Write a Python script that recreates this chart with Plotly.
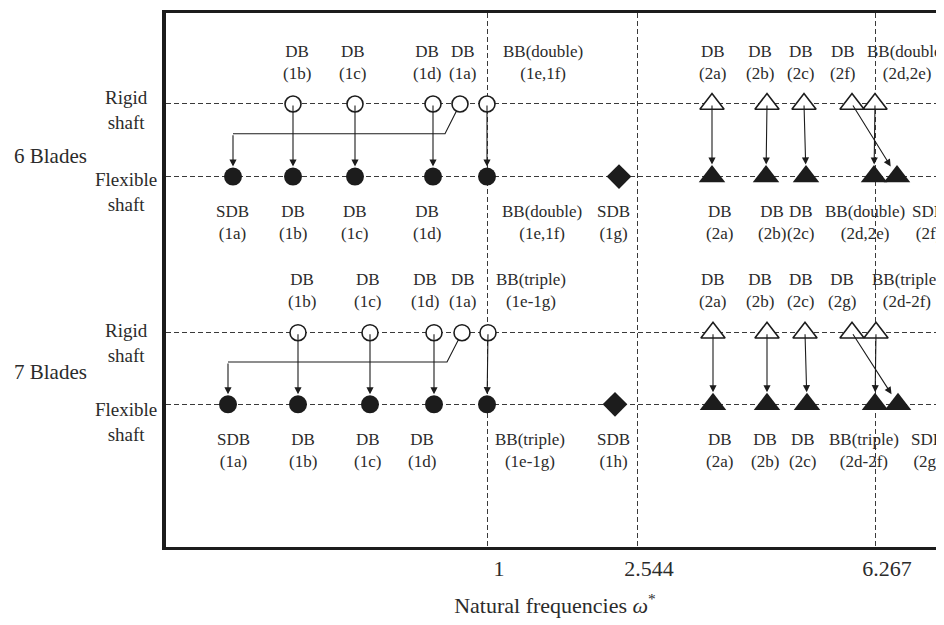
import plotly.graph_objects as go

FONT = "Liberation Serif, Times New Roman, serif"
INK = "#1c1c1c"
TXT = "#2b2b2b"

# ---- schematic frequency axis (positions along the line, unitless) ----
divider_pos = [321, 471, 709]
divider_labels = ["1", "2.544", "6.267"]

# ---- rows ----
level_pos = [95, 168, 325, 397]          # 6-rigid, 6-flex, 7-rigid, 7-flex
level_names = ["Rigid<br>shaft", "Flexible<br>shaft", "Rigid<br>shaft", "Flexible<br>shaft"]
group_names = ["6 Blades", "7 Blades"]

# ---- 6 blades: modes (rigid position -> flexible position) ----
b6_modes = ["1a", "1b", "1c", "1d", "1e,1f", "2a", "2b", "2c", "2d,2e", "2f"]
b6_family = [1, 1, 1, 1, 1, 2, 2, 2, 2, 2]
b6_rigid = [294, 127, 189, 267, 321, 546, 601, 638, 709, 686]
b6_flex = [67, 127, 189, 267, 321, 546, 600, 640, 708, 731]
b6_new = [453]                             # SDB (1g), flexible only
b6_top_text = ["DB<br>(1b)", "DB<br>(1c)", "DB<br>(1d)", "DB<br>(1a)", "BB(double)<br>(1e,1f)",
               "DB<br>(2a)", "DB<br>(2b)", "DB<br>(2c)", "DB<br>(2f)", "BB(double)<br>(2d,2e)"]
b6_top_x = [131, 186, 261, 296, 377, 546, 594, 634, 676, 741]
b6_bot_text = ["SDB<br>(1a)", "DB<br>(1b)", "DB<br>(1c)", "DB<br>(1d)", "BB(double)<br>(1e,1f)",
               "SDB<br>(1g)", "DB<br>(2a)", "DB<br>(2b)", "DB<br>(2c)", "BB(double)<br>(2d,2e)", "SDB<br>(2f)"]
b6_bot_x = [66, 127, 188, 261, 376, 447, 553, 606, 634, 699, 762]

# ---- 7 blades ----
b7_modes = ["1a", "1b", "1c", "1d", "1e-1g", "2a", "2b", "2c", "2d-2f", "2g"]
b7_family = [1, 1, 1, 1, 1, 2, 2, 2, 2, 2]
b7_rigid = [296, 132, 204, 268, 322, 547, 601, 639, 710, 686]
b7_flex = [62, 132, 204, 268, 321, 547, 601, 641, 709, 732]
b7_new = [449]                             # SDB (1h), flexible only
b7_top_text = ["DB<br>(1b)", "DB<br>(1c)", "DB<br>(1d)", "DB<br>(1a)", "BB(triple)<br>(1e-1g)",
               "DB<br>(2a)", "DB<br>(2b)", "DB<br>(2c)", "DB<br>(2g)", "BB(triple)<br>(2d-2f)"]
b7_top_x = [136, 201, 259, 296, 365, 546, 594, 634, 676, 741]
b7_bot_text = ["SDB<br>(1a)", "DB<br>(1b)", "DB<br>(1c)", "DB<br>(1d)", "BB(triple)<br>(1e-1g)",
               "SDB<br>(1h)", "DB<br>(2a)", "DB<br>(2b)", "DB<br>(2c)", "BB(triple)<br>(2d-2f)", "SDB<br>(2g)"]
b7_bot_x = [67, 137, 201, 256, 364, 447, 553, 599, 636, 698, 761]

X_RANGE = [0, 778]
Y_RANGE = [540.5, 3.5]
LABEL_UP = 42
LABEL_DOWN = 46
ROW_LABEL_DY = [6, 16, 10, 18]     # offsets of the left row captions
GROUP_LABEL_Y = [147, 365]

fig = go.Figure()
annotations = []

configs = [
    (level_pos[0], level_pos[1], b6_modes, b6_family, b6_rigid, b6_flex, b6_new,
     b6_top_text, b6_top_x, b6_bot_text, b6_bot_x),
    (level_pos[2], level_pos[3], b7_modes, b7_family, b7_rigid, b7_flex, b7_new,
     b7_top_text, b7_top_x, b7_bot_text, b7_bot_x),
]

def arrow(x, y, ax, ay, standoff):
    return dict(x=x, y=y, ax=ax, ay=ay, xref="x", yref="y", axref="x", ayref="y",
                showarrow=True, arrowhead=2, arrowsize=1.3, arrowwidth=1.1,
                arrowcolor=INK, standoff=standoff, startstandoff=0, text="")

for ry, fy, modes, fam, rig, flx, new, tt, tx, bt, bx in configs:
    # routed connector for the (1a) mode
    i = modes.index("1a")
    elbow_y = ry + 0.41 * (fy - ry)
    fig.add_trace(go.Scatter(x=[rig[i], rig[i] - 15, flx[i]], y=[ry, elbow_y, elbow_y],
                             mode="lines", line=dict(color=INK, width=1.1),
                             hoverinfo="skip"))
    annotations.append(arrow(flx[i], fy, flx[i], elbow_y, 10))
    for k in range(len(modes)):
        if k == i:
            continue
        annotations.append(arrow(flx[k], fy, rig[k], ry, 10 if fam[k] == 1 else 12))

    r1 = [rig[k] for k in range(len(modes)) if fam[k] == 1]
    f1 = [flx[k] for k in range(len(modes)) if fam[k] == 1]
    r2 = [rig[k] for k in range(len(modes)) if fam[k] == 2]
    f2 = [flx[k] for k in range(len(modes)) if fam[k] == 2]
    fig.add_trace(go.Scatter(x=r1, y=[ry] * len(r1), mode="markers",
                             marker=dict(symbol="circle", size=16, color="white",
                                         line=dict(color=INK, width=1.6))))
    fig.add_trace(go.Scatter(x=f1, y=[fy] * len(f1), mode="markers",
                             marker=dict(symbol="circle", size=18, color=INK)))
    fig.add_trace(go.Scatter(x=r2, y=[ry] * len(r2), mode="markers",
                             marker=dict(symbol="triangle-up", size=21, color="white",
                                         line=dict(color=INK, width=1.6))))
    fig.add_trace(go.Scatter(x=f2, y=[fy] * len(f2), mode="markers",
                             marker=dict(symbol="triangle-up", size=23, color=INK)))
    fig.add_trace(go.Scatter(x=new, y=[fy] * len(new), mode="markers",
                             marker=dict(symbol="diamond", size=19, color=INK)))

    for t, x in zip(tt, tx):
        annotations.append(dict(x=x, y=ry - LABEL_UP, xref="x", yref="y", text=t,
                                showarrow=False, align="center", xanchor="center",
                                font=dict(family=FONT, size=17, color=TXT)))
    for t, x in zip(bt, bx):
        annotations.append(dict(x=x, y=fy + LABEL_DOWN, xref="x", yref="y", text=t,
                                showarrow=False, align="center", xanchor="center",
                                font=dict(family=FONT, size=17, color=TXT)))

# left-hand row labels (placed in the margin, in plot-width fractions)
span = X_RANGE[1] - X_RANGE[0]
for name, y, dy in zip(level_names, level_pos, ROW_LABEL_DY):
    annotations.append(dict(x=-40 / span, y=y + dy,
                            xref="paper", yref="y", text=name, xanchor="center",
                            showarrow=False, align="center",
                            font=dict(family=FONT, size=19, color=TXT)))
for g, gy in zip(group_names, GROUP_LABEL_Y):
    annotations.append(dict(x=-116 / span, y=gy,
                            xref="paper", yref="y", text=g, xanchor="center",
                            showarrow=False, align="center",
                            font=dict(family=FONT, size=21, color=TXT)))

fig.update_layout(
    width=944, height=625,
    margin=dict(l=158, r=8, t=2, b=86),
    paper_bgcolor="white", plot_bgcolor="white",
    showlegend=False,
    annotations=annotations,
    xaxis=dict(range=X_RANGE, tickvals=divider_pos, ticktext=divider_labels,
               showgrid=True, gridcolor="#3a3a3a", gridwidth=1, griddash="5px,3px",
               showline=True, mirror=True, linecolor=INK, linewidth=3,
               ticks="", zeroline=False, ticklabelshift=12,
               tickfont=dict(family=FONT, size=22, color=TXT),
               title=dict(text="Natural frequencies <i>ω</i><sup>*</sup>", standoff=18,
                          font=dict(family=FONT, size=22, color=TXT))),
    yaxis=dict(range=Y_RANGE, tickvals=level_pos, showticklabels=False,
               showgrid=True, gridcolor="#3a3a3a", gridwidth=1, griddash="5px,3px",
               showline=True, mirror=False, linecolor=INK, linewidth=4,
               ticks="", zeroline=False),
)

fig.write_html("out.html")
